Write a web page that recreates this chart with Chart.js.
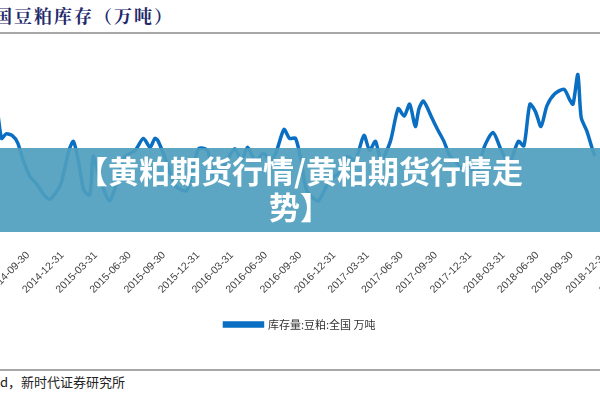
<!DOCTYPE html>
<html lang="zh">
<head>
<meta charset="UTF-8">
<title>豆粕库存</title>
<script src="https://cdn.jsdelivr.net/npm/chart.js"></script>
<style>
  body { margin: 0; width: 600px; height: 400px; overflow: hidden; background: #fff; position: relative; font-family: "Noto Sans CJK SC", sans-serif; }
  #title { position: absolute; left: -6px; top: 2px; font: bold 18px "Noto Serif CJK SC", "Noto Sans CJK SC"; color: #1f2a6b; letter-spacing: 2px; }
  #topline { position: absolute; left: 0; top: 32px; width: 600px; height: 2px; background: #a8a8a8; }
  #box { position: absolute; left: -100px; top: 40px; width: 800px; height: 300px; }
  #banner { position: absolute; left: 0; top: 148px; width: 600px; height: 84px; background: rgba(78,158,190,0.92);
            color: #fff; font: bold 31px "Noto Sans CJK SC"; text-align: center; line-height: 36px; padding: 4px 62px 0; box-sizing: border-box; }
  #bottomline { position: absolute; left: 0; top: 369px; width: 600px; height: 2px; background: #a8a8a8; }
  #source { position: absolute; left: 0; top: 372px; font-size: 13px; color: #222; }
</style>
</head>
<body>
<div id="title">国豆粕库存（万吨）</div>
<div id="topline"></div>
<div id="box"><canvas id="chart"></canvas></div>
<div id="banner">【黄粕期货行情/黄粕期货行情走势】</div>
<div id="bottomline"></div>
<div id="source">d，新时代证券研究所</div>
<script>
  // days counted from 2014-09-30
  var days = [-80,-71,-59,-43,-28,-13,6,21,43,58,73,89,110,122,135,150,166,175,190,218,236,258,288,310,328,341,350,371,396,427,458,482,504,534,556,574,590,611,633,651,666,688,703,719,734,749,780,811,842,857,879,903,918,934,949,974,995,1011,1026,1041,1051,1063,1087,1103,1118,1134,1149,1164,1180,1204,1226,1250,1272,1293,1318,1333,1349,1364,1379,1395,1416,1441,1456,1465,1478,1487,1502,1518,1524];
  var stock = [89,75,78,77,72,60,49,45,37,34,38,45,67,73,60,40,37,63,50,33,43,62,67,75,69,75,73,60,43,40,68,67,47,60,68,60,69,60,65,60,65,81,75,75,60,40,33,47,53,63,60,77,67,73,60,73,95,90,98,83,95,100,88,80,73,63,60,55,60,50,69,79,67,58,73,70,98,93,83,97,105,108,101,98,118,89,80,67,63];
  var tickLabels = ['2014-06-30','2014-09-30','2014-12-31','2015-03-31','2015-06-30','2015-09-30','2015-12-31','2016-03-31','2016-06-30','2016-09-30','2016-12-31','2017-03-31','2017-06-30','2017-09-30','2017-12-31','2018-03-31','2018-06-30','2018-09-30','2018-12-31','2019-03-31'];

  var base = Date.UTC(2014, 8, 30);
  var tickDays = tickLabels.map(function (s) { return Math.round((Date.parse(s) - base) / 86400000); });
  var points = days.map(function (d, i) { return { x: d, y: stock[i] }; });

  var chart = new Chart(document.getElementById('chart'), {
    type: 'line',
    data: { datasets: [{ label: '库存量:豆粕:全国 万吨', data: points, borderColor: '#0a6fc2', backgroundColor: '#0a6fc2',
      borderWidth: 3.5, pointRadius: 0, tension: 0.25 }] },
    options: {
      responsive: true, maintainAspectRatio: false, animation: false,
      layout: { padding: 0 },
      plugins: {
        legend: { position: 'bottom', labels: { boxWidth: 38, boxHeight: 3, padding: 20, color: '#333', font: { size: 11, family: 'Noto Sans CJK SC' } } },
        tooltip: { enabled: false }
      },
      scales: {
        x: { type: 'linear', min: -300, max: 1750, grid: { display: false }, border: { display: false },
          afterBuildTicks: function (ax) { ax.ticks = tickDays.map(function (v) { return { value: v }; }); },
          ticks: { autoSkip: false, minRotation: 45, maxRotation: 45, color: '#444', font: { size: 10.5 },
            callback: function (v) { var i = tickDays.indexOf(v); return i >= 0 ? tickLabels[i] : ''; } } },
        y: { display: false, min: 0, max: 140 }
      }
    }
  });

  // fit the scales so that the plot lines up with the page: day -80 at x=0, day 1526 at x=600,
  // value 0 at y=250 and 140 at y=40
  var a = chart.chartArea, k = 1606 / 600;
  chart.options.scales.x.min = -80 + (a.left - 97) * k;
  chart.options.scales.x.max = -80 + (a.right - 97) * k;
  chart.options.scales.y.max = (250 - (40 + a.top)) / 1.5;
  chart.options.scales.y.min = (250 - (40 + a.bottom)) / 1.5;
  chart.update();
</script>
</body>
</html>
